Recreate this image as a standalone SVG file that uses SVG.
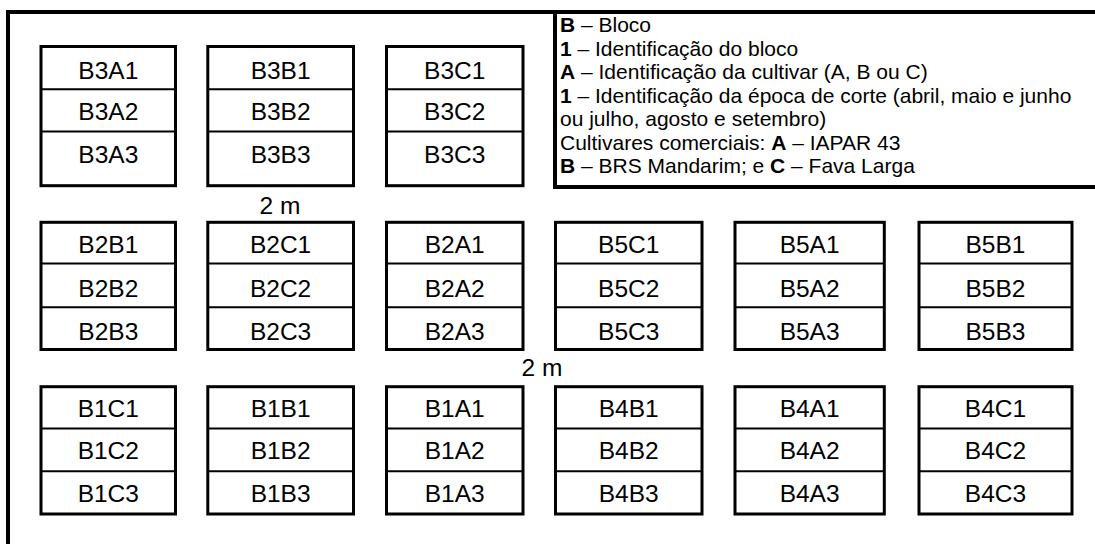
<svg xmlns="http://www.w3.org/2000/svg" width="1095" height="544" viewBox="0 0 1095 544">
<style>
.frame{fill:none;stroke:#000;stroke-width:4}
.plot{fill:#fff;stroke:#000;stroke-width:3}
.div{stroke:#000;stroke-width:2}
.t{font-family:"Liberation Sans",Arial,sans-serif;font-size:24.5px;fill:#000;text-anchor:middle}
.lg{font-family:"Liberation Sans",Arial,sans-serif;font-size:21px;fill:#000}
.b{font-weight:bold}
</style>
<rect width="1095" height="544" fill="#fff"/>
<g id="frame">
<path class="frame" d="M8 544 V12 H1095"/>
<path class="frame" d="M555 12 V187 H1095"/>
</g>
<g id="legend">
<text class="lg" x="560" y="32"><tspan class="b">B</tspan> – Bloco</text>
<text class="lg" x="560" y="55.5"><tspan class="b">1</tspan> – Identificação do bloco</text>
<text class="lg" x="560" y="79"><tspan class="b">A</tspan> – Identificação da cultivar (A, B ou C)</text>
<text class="lg" x="560" y="102.5"><tspan class="b">1</tspan> – Identificação da época de corte (abril, maio e junho</text>
<text class="lg" x="560" y="126">ou julho, agosto e setembro)</text>
<text class="lg" x="560" y="149.5">Cultivares comerciais: <tspan class="b">A</tspan> – IAPAR 43</text>
<text class="lg" x="560" y="173"><tspan class="b">B</tspan> – BRS Mandarim; e <tspan class="b">C</tspan> – Fava Larga</text>
</g>
<g id="labels">
<text class="t" x="280" y="214">2 m</text>
<text class="t" x="542" y="376">2 m</text>
</g>
<!-- Row 1 -->
<g id="B3A">
<rect class="plot" x="41" y="46.5" width="134.5" height="139.2"/>
<line class="div" x1="41" y1="89.3" x2="175.5" y2="89.3"/><line class="div" x1="41" y1="131.5" x2="175.5" y2="131.5"/>
<text class="t" x="108.3" y="79">B3A1</text><text class="t" x="108.3" y="120">B3A2</text><text class="t" x="108.3" y="162.7">B3A3</text>
</g>
<g id="B3B">
<rect class="plot" x="207.8" y="46.5" width="145.7" height="139.2"/>
<line class="div" x1="207.8" y1="89.3" x2="353.5" y2="89.3"/><line class="div" x1="207.8" y1="131.5" x2="353.5" y2="131.5"/>
<text class="t" x="280.6" y="79">B3B1</text><text class="t" x="280.6" y="120">B3B2</text><text class="t" x="280.6" y="162.7">B3B3</text>
</g>
<g id="B3C">
<rect class="plot" x="386.5" y="46.5" width="136.5" height="139.2"/>
<line class="div" x1="386.5" y1="89.3" x2="523" y2="89.3"/><line class="div" x1="386.5" y1="131.5" x2="523" y2="131.5"/>
<text class="t" x="454.7" y="79">B3C1</text><text class="t" x="454.7" y="120">B3C2</text><text class="t" x="454.7" y="162.7">B3C3</text>
</g>
<!-- Row 2 -->
<g id="B2B">
<rect class="plot" x="41" y="222.3" width="134.5" height="127.2"/>
<line class="div" x1="41" y1="263.5" x2="175.5" y2="263.5"/><line class="div" x1="41" y1="307.3" x2="175.5" y2="307.3"/>
<text class="t" x="108.3" y="253.3">B2B1</text><text class="t" x="108.3" y="296.7">B2B2</text><text class="t" x="108.3" y="339.5">B2B3</text>
</g>
<g id="B2C">
<rect class="plot" x="207.8" y="222.3" width="145.7" height="127.2"/>
<line class="div" x1="207.8" y1="263.5" x2="353.5" y2="263.5"/><line class="div" x1="207.8" y1="307.3" x2="353.5" y2="307.3"/>
<text class="t" x="280.6" y="253.3">B2C1</text><text class="t" x="280.6" y="296.7">B2C2</text><text class="t" x="280.6" y="339.5">B2C3</text>
</g>
<g id="B2A">
<rect class="plot" x="386.5" y="222.3" width="136.5" height="127.2"/>
<line class="div" x1="386.5" y1="263.5" x2="523" y2="263.5"/><line class="div" x1="386.5" y1="307.3" x2="523" y2="307.3"/>
<text class="t" x="454.7" y="253.3">B2A1</text><text class="t" x="454.7" y="296.7">B2A2</text><text class="t" x="454.7" y="339.5">B2A3</text>
</g>
<g id="B5C">
<rect class="plot" x="555.5" y="222.3" width="146.5" height="127.2"/>
<line class="div" x1="555.5" y1="263.5" x2="702" y2="263.5"/><line class="div" x1="555.5" y1="307.3" x2="702" y2="307.3"/>
<text class="t" x="628.7" y="253.3">B5C1</text><text class="t" x="628.7" y="296.7">B5C2</text><text class="t" x="628.7" y="339.5">B5C3</text>
</g>
<g id="B5A">
<rect class="plot" x="735" y="222.3" width="149.3" height="127.2"/>
<line class="div" x1="735" y1="263.5" x2="884.3" y2="263.5"/><line class="div" x1="735" y1="307.3" x2="884.3" y2="307.3"/>
<text class="t" x="809.6" y="253.3">B5A1</text><text class="t" x="809.6" y="296.7">B5A2</text><text class="t" x="809.6" y="339.5">B5A3</text>
</g>
<g id="B5B">
<rect class="plot" x="919" y="222.3" width="153" height="127.2"/>
<line class="div" x1="919" y1="263.5" x2="1072" y2="263.5"/><line class="div" x1="919" y1="307.3" x2="1072" y2="307.3"/>
<text class="t" x="995.5" y="253.3">B5B1</text><text class="t" x="995.5" y="296.7">B5B2</text><text class="t" x="995.5" y="339.5">B5B3</text>
</g>
<!-- Row 3 -->
<g id="B1C">
<rect class="plot" x="41" y="386.7" width="134.5" height="127.3"/>
<line class="div" x1="41" y1="428.5" x2="175.5" y2="428.5"/><line class="div" x1="41" y1="471.3" x2="175.5" y2="471.3"/>
<text class="t" x="108.3" y="416.7">B1C1</text><text class="t" x="108.3" y="459.3">B1C2</text><text class="t" x="108.3" y="501.7">B1C3</text>
</g>
<g id="B1B">
<rect class="plot" x="207.8" y="386.7" width="145.7" height="127.3"/>
<line class="div" x1="207.8" y1="428.5" x2="353.5" y2="428.5"/><line class="div" x1="207.8" y1="471.3" x2="353.5" y2="471.3"/>
<text class="t" x="280.6" y="416.7">B1B1</text><text class="t" x="280.6" y="459.3">B1B2</text><text class="t" x="280.6" y="501.7">B1B3</text>
</g>
<g id="B1A">
<rect class="plot" x="386.5" y="386.7" width="136.5" height="127.3"/>
<line class="div" x1="386.5" y1="428.5" x2="523" y2="428.5"/><line class="div" x1="386.5" y1="471.3" x2="523" y2="471.3"/>
<text class="t" x="454.7" y="416.7">B1A1</text><text class="t" x="454.7" y="459.3">B1A2</text><text class="t" x="454.7" y="501.7">B1A3</text>
</g>
<g id="B4B">
<rect class="plot" x="555.5" y="386.7" width="146.5" height="127.3"/>
<line class="div" x1="555.5" y1="428.5" x2="702" y2="428.5"/><line class="div" x1="555.5" y1="471.3" x2="702" y2="471.3"/>
<text class="t" x="628.7" y="416.7">B4B1</text><text class="t" x="628.7" y="459.3">B4B2</text><text class="t" x="628.7" y="501.7">B4B3</text>
</g>
<g id="B4A">
<rect class="plot" x="735" y="386.7" width="149.3" height="127.3"/>
<line class="div" x1="735" y1="428.5" x2="884.3" y2="428.5"/><line class="div" x1="735" y1="471.3" x2="884.3" y2="471.3"/>
<text class="t" x="809.6" y="416.7">B4A1</text><text class="t" x="809.6" y="459.3">B4A2</text><text class="t" x="809.6" y="501.7">B4A3</text>
</g>
<g id="B4C">
<rect class="plot" x="919" y="386.7" width="153" height="127.3"/>
<line class="div" x1="919" y1="428.5" x2="1072" y2="428.5"/><line class="div" x1="919" y1="471.3" x2="1072" y2="471.3"/>
<text class="t" x="995.5" y="416.7">B4C1</text><text class="t" x="995.5" y="459.3">B4C2</text><text class="t" x="995.5" y="501.7">B4C3</text>
</g>
</svg>
